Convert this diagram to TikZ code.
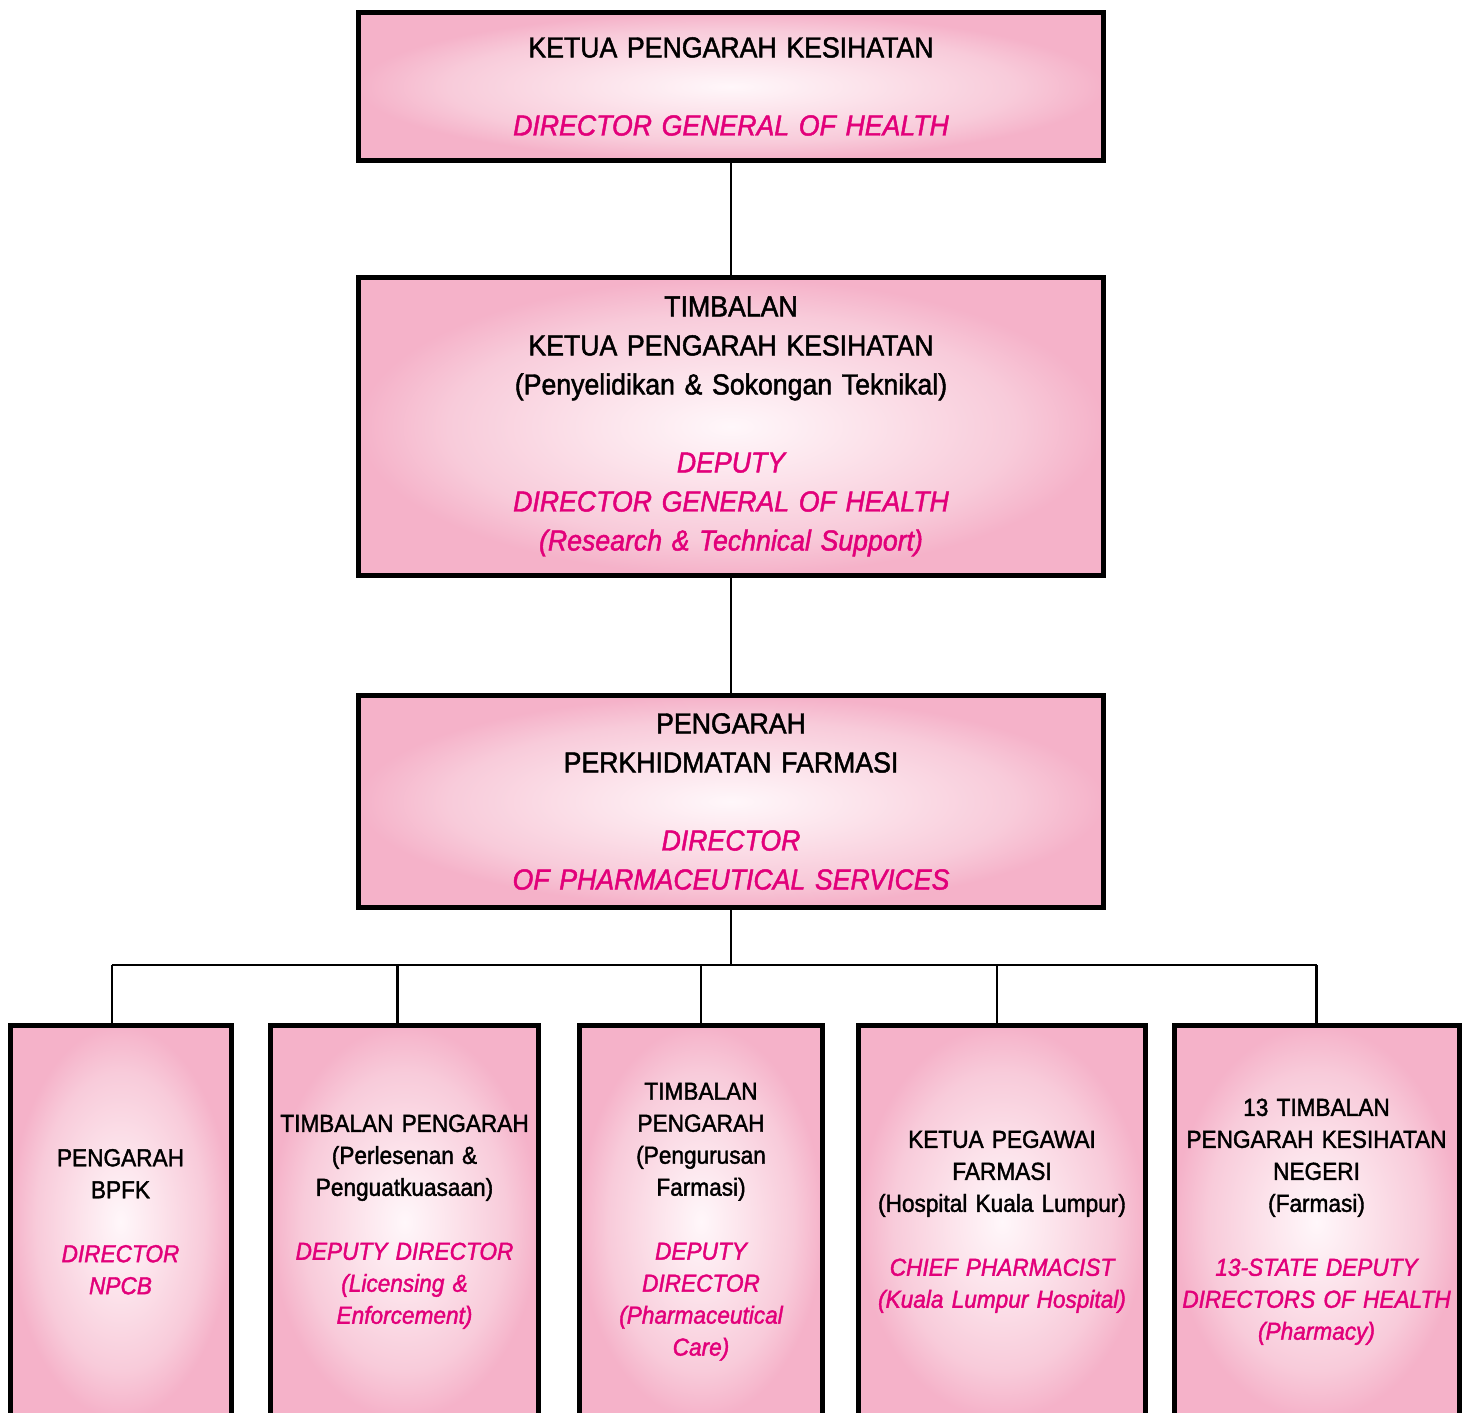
\documentclass[tikz,border=0pt]{standalone}
\usepackage{fontspec}
\setmainfont{Liberation Sans}[FakeStretch=0.92, WordSpace=0.7, FakeBold=1.6]
\usetikzlibrary{positioning}

\definecolor{enpink}{HTML}{E2007A}
\definecolor{pkcore}{HTML}{FFF7FA}
\definecolor{pklight}{HTML}{FCE3EB}
\definecolor{pkmid}{HTML}{F8CBDA}
\definecolor{pkedge}{HTML}{F5B2C9}
\pgfdeclareradialshading{pinkglow}{\pgfpoint{0bp}{0bp}}{color(0bp)=(pkcore); color(9bp)=(pklight); color(19bp)=(pkmid); color(25bp)=(pkedge); color(50bp)=(pkedge)}
\newcommand{\engl}{\color{enpink}\itshape}

\begin{document}
\begin{tikzpicture}[
    headbox/.style={draw, line width=0.1cm, shade, shading=pinkglow, inner sep=0pt,
        minimum width=14.9cm, text width=14.9cm, align=center,
        font=\fontsize{16.5}{22.2}\selectfont},
    unitbox/.style={draw, line width=0.1cm, shade, shading=pinkglow, inner sep=0pt,
        minimum width=#1, text width=#1, minimum height=7.85cm, align=center,
        font=\fontsize{14}{18.2}\selectfont},
    link/.style={line width=0.045cm}]
\useasboundingbox (0,0) rectangle (29.34,-28.24);

% top of the chart
\node[headbox, minimum height=2.96cm] (dg) at (14.62,-1.73)
    {KETUA PENGARAH KESIHATAN\\[22.2pt]
     \engl DIRECTOR GENERAL OF HEALTH};
\node[headbox, minimum height=5.94cm] (ddg) at (14.62,-8.53)
    {TIMBALAN\\KETUA PENGARAH KESIHATAN\\(Penyelidikan \& Sokongan Teknikal)\\[22.2pt]
     \engl DEPUTY\\DIRECTOR GENERAL OF HEALTH\\(Research \& Technical Support)};
\node[headbox, minimum height=4.24cm] (dps) at (14.62,-16.03)
    {PENGARAH\\PERKHIDMATAN FARMASI\\[22.2pt]
     \engl DIRECTOR\\OF PHARMACEUTICAL SERVICES};

% units under the director
\node[unitbox=4.42cm] (npcb) at (2.41,-24.435)
    {PENGARAH\\BPFK\\[18.2pt]
     \engl DIRECTOR\\NPCB};
\node[unitbox=5.36cm] (ppl) at (8.09,-24.435)
    {TIMBALAN PENGARAH\\(Perlesenan \&\\Penguatkuasaan)\\[18.2pt]
     \engl DEPUTY DIRECTOR\\(Licensing \&\\Enforcement)};
\node[unitbox=4.87cm] (ppf) at (14.02,-24.435)
    {TIMBALAN\\PENGARAH\\(Pengurusan\\Farmasi)\\[18.2pt]
     \engl DEPUTY\\DIRECTOR\\(Pharmaceutical\\Care)};
\node[unitbox=5.73cm] (hkl) at (20.04,-24.435)
    {KETUA PEGAWAI\\FARMASI\\(Hospital Kuala Lumpur)\\[18.2pt]
     \engl CHIEF PHARMACIST\\(Kuala Lumpur Hospital)};
\node[unitbox=5.70cm] (state) at (26.33,-24.435)
    {13 TIMBALAN\\PENGARAH KESIHATAN\\NEGERI\\(Farmasi)\\[18.2pt]
     \engl 13-STATE DEPUTY\\DIRECTORS OF HEALTH\\(Pharmacy)};

% connectors
\coordinate (bus) at (0,-19.3);
\draw[link] (dg.south) -- (ddg.north);
\draw[link] (ddg.south) -- (dps.north);
\draw[link] (dps.south) -- (dps.south |- bus);
\foreach \n/\dx in {npcb/-0.174, ppl/-0.14, ppf/0, hkl/-0.1, state/0}
    \draw[link] ([xshift=\dx cm]\n.north) -- ([xshift=\dx cm]\n.north |- bus);
\draw[link] ([xshift=-0.174cm]npcb.north |- bus) -- (state.north |- bus);
\end{tikzpicture}
\end{document}
